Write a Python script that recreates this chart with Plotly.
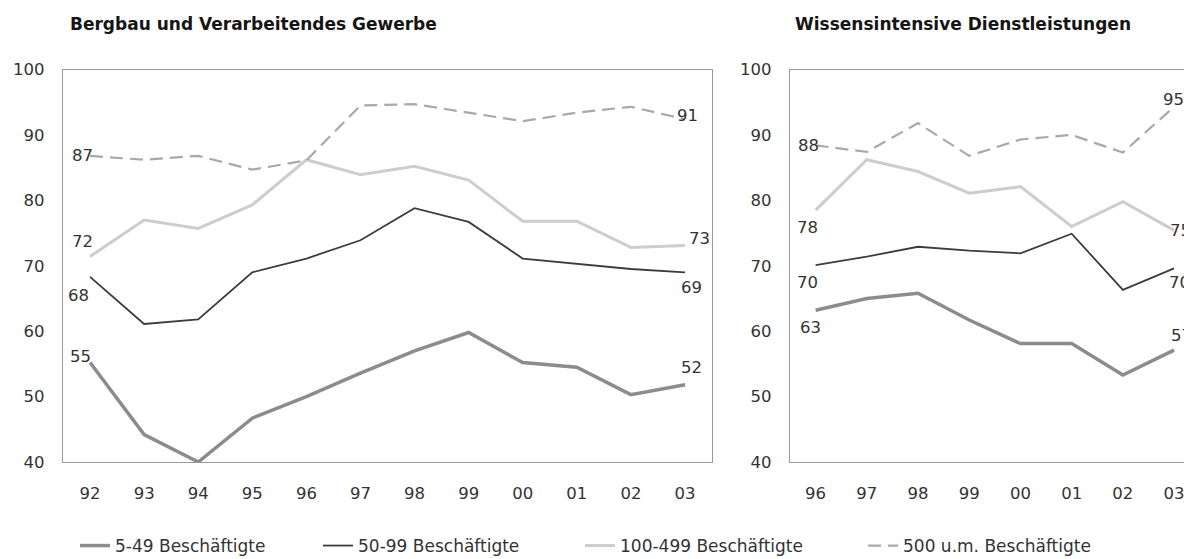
import plotly.graph_objects as go

# ---------------- data ----------------
years_left = ["92", "93", "94", "95", "96", "97", "98", "99", "00", "01", "02", "03"]
years_right = ["96", "97", "98", "99", "00", "01", "02", "03"]

series_names = ["5-49 Beschäftigte", "50-99 Beschäftigte",
                "100-499 Beschäftigte", "500 u.m. Beschäftigte"]

left_5_49 = [55.2, 44.2, 40.0, 46.7, 50.0, 53.6, 57.0, 59.8, 55.2, 54.5, 50.3, 51.8]
left_50_99 = [68.3, 61.1, 61.8, 69.0, 71.1, 73.9, 78.8, 76.7, 71.1, 70.3, 69.5, 69.0]
left_100_499 = [71.4, 77.0, 75.7, 79.3, 86.2, 83.9, 85.2, 83.1, 76.8, 76.8, 72.8, 73.1]
left_500 = [86.8, 86.2, 86.8, 84.7, 86.1, 94.5, 94.7, 93.4, 92.1, 93.4, 94.3, 92.4]

right_5_49 = [63.2, 65.0, 65.8, 61.7, 58.1, 58.1, 53.3, 57.1]
right_50_99 = [70.1, 71.4, 72.9, 72.3, 71.9, 74.9, 66.3, 69.6]
right_100_499 = [78.5, 86.2, 84.4, 81.1, 82.1, 76.0, 79.8, 75.4]
right_500 = [88.4, 87.4, 91.8, 86.8, 89.3, 90.0, 87.3, 94.3]

left_start_labels = ["55", "68", "72", "87"]
left_end_labels = ["52", "69", "73", "91"]
right_start_labels = ["63", "70", "78", "88"]
right_end_labels = ["57", "70", "75", "95"]

titles = ["Bergbau und Verarbeitendes Gewerbe", "Wissensintensive Dienstleistungen"]
y_ticks = [40, 50, 60, 70, 80, 90, 100]

# ---------------- styles ----------------
FONT = "DejaVu Sans"
FS = 16.5
TXT = "#333333"
line_styles = [
    dict(color="#8c8c8c", width=3.5),
    dict(color="#3c3c3c", width=1.8),
    dict(color="#cdcdcd", width=3),
    dict(color="#a9a9a9", width=2.2, dash="13px,7px"),
]
# label offsets (xshift, yshift) in pixels
left_start_off = [(-10, 6), (-12, -19), (-8, 15), (-8, 0)]
left_end_off = [(7, 17), (7, -15), (15, 7), (3, 4)]
right_start_off = [(-5, -17), (-8, -17), (-8, -17), (-7, 0)]
right_end_off = [(7, 15), (5, -14), (6, 0), (-1, 7)]

# page body has an 8px margin: figure coordinates = screen coordinates - 8
OFF = 8
W, H = 1192 - OFF, 559 - OFF
legend_text_px = [124, 367, 629, 912]   # screen x where legend texts start
title_x_px = [68, 793]                  # screen x where titles start

fig = go.Figure()

left_data = [left_5_49, left_50_99, left_100_499, left_500]
right_data = [right_5_49, right_50_99, right_100_499, right_500]
legend_ids = ["legend", "legend2", "legend3", "legend4"]

for i, name in enumerate(series_names):
    fig.add_trace(go.Scatter(x=years_left, y=left_data[i], mode="lines", name=name,
                             line=line_styles[i], xaxis="x", yaxis="y",
                             legend=legend_ids[i], showlegend=True, hoverinfo="skip"))
    fig.add_trace(go.Scatter(x=years_right, y=right_data[i], mode="lines", name=name,
                             line=line_styles[i], xaxis="x2", yaxis="y2",
                             showlegend=False, hoverinfo="skip"))

annotations = []
def add_labels(xs, data, start_labels, end_labels, s_off, e_off, xref, yref):
    last = len(xs) - 1
    for i in range(len(data)):
        annotations.append(dict(x=0, y=data[i][0], xref=xref, yref=yref,
                                text=start_labels[i], showarrow=False,
                                xshift=s_off[i][0], yshift=s_off[i][1],
                                font=dict(family=FONT, size=FS, color=TXT)))
        annotations.append(dict(x=last, y=data[i][-1], xref=xref, yref=yref,
                                text=end_labels[i], showarrow=False,
                                xshift=e_off[i][0], yshift=e_off[i][1],
                                font=dict(family=FONT, size=FS, color=TXT)))

add_labels(years_left, left_data, left_start_labels, left_end_labels,
           left_start_off, left_end_off, "x", "y")
add_labels(years_right, right_data, right_start_labels, right_end_labels,
           right_start_off, right_end_off, "x2", "y2")

for t, xp in zip(titles, title_x_px):
    annotations.append(dict(x=(xp - OFF) / W, y=1 - (24 - OFF) / H, xref="paper", yref="paper",
                            xanchor="left", yanchor="middle", text="<b>" + t + "</b>",
                            showarrow=False,
                            font=dict(family=FONT, size=17, color="#151515")))

ydom = [1 - (462 - OFF) / H, 1 - (69.5 - OFF) / H]
axis_common = dict(showgrid=False, zeroline=False, showline=True, linecolor="#9a9a9a",
                   linewidth=1.2, ticks="", color=TXT, automargin=False,
                   tickfont=dict(family=FONT, size=FS, color=TXT))

layout = dict(
    width=W, height=H, margin=dict(l=0, r=0, t=0, b=0, autoexpand=False),
    paper_bgcolor="white", plot_bgcolor="white",
    font=dict(family=FONT, color=TXT),
    xaxis=dict(domain=[(63 - OFF) / W, (712 - OFF) / W], type="category", range=[-0.5, 11.5],
               mirror=True, ticklabelstandoff=16, anchor="y", **axis_common),
    yaxis=dict(domain=ydom, range=[40, 100], tickvals=y_ticks, mirror=True,
               ticklabelstandoff=14, anchor="x", **axis_common),
    xaxis2=dict(domain=[(790 - OFF) / W, 1.0], type="category", range=[-0.5, 7.35],
                mirror=True, ticklabelstandoff=16, anchor="y2", **axis_common),
    yaxis2=dict(domain=ydom, range=[40, 100], tickvals=y_ticks, mirror=False,
                ticklabelstandoff=14, anchor="x2", **axis_common),
    annotations=annotations,
    showlegend=True,
)
for lid, xp in zip(legend_ids, legend_text_px):
    layout[lid] = dict(x=(xp - 49 - OFF) / W, y=1 - (546 - OFF) / H,
                       xref="container", yref="container",
                       xanchor="left", yanchor="middle",
                       orientation="h", bgcolor="rgba(0,0,0,0)",
                       font=dict(family=FONT, size=17, color=TXT))

fig.update_layout(**layout)
fig.write_html("out.html")
